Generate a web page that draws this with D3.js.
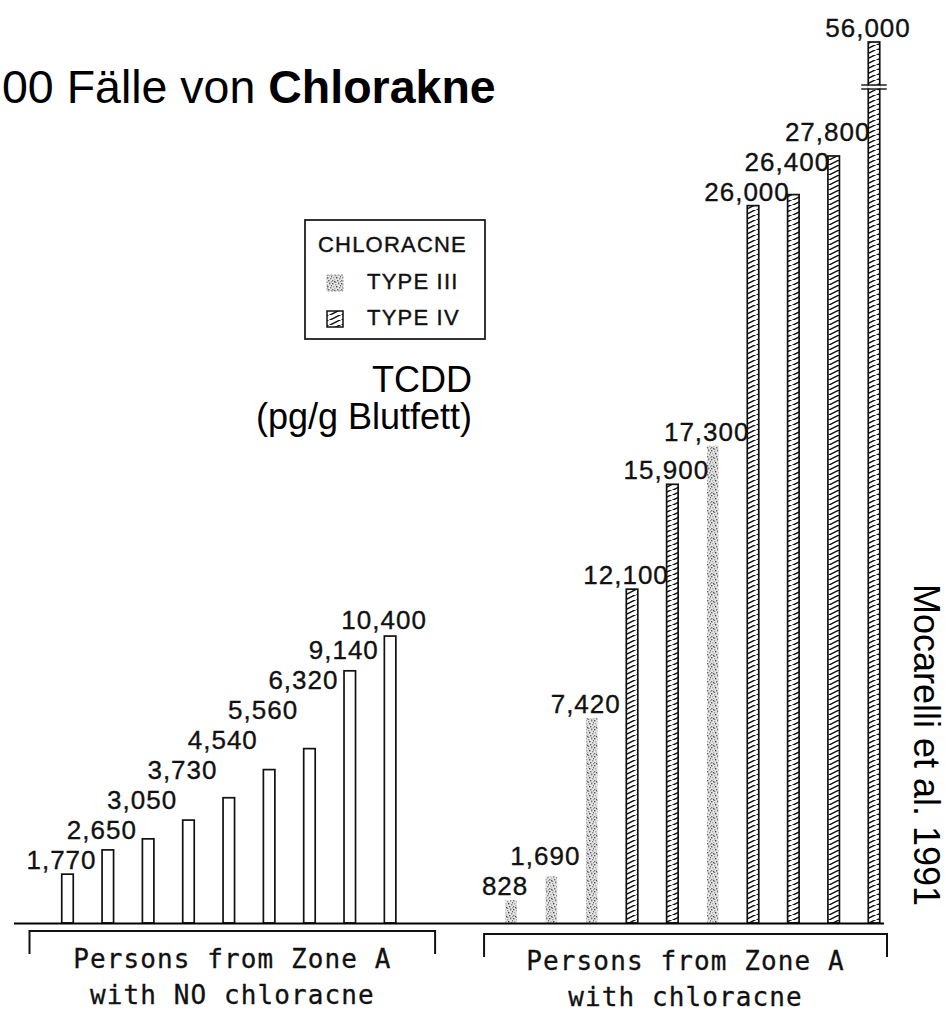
<!DOCTYPE html>
<html><head><meta charset="utf-8">
<script src="https://cdn.jsdelivr.net/npm/d3@7"></script>
<style>body{margin:0;background:#fff;overflow:hidden} svg{display:block}</style>
</head><body>
<svg id="chart" width="949" height="1013"></svg>
<script>
// ---------------- data ----------------
const noAcneValues = [1770, 2650, 3050, 3730, 4540, 5560, 6320, 9140, 10400];
const acneValues   = [828, 1690, 7420, 12100, 15900, 17300, 26000, 26400, 27800, 56000];
const acneTypes    = ["III", "III", "III", "IV", "IV", "III", "IV", "IV", "IV", "IV"];
const groupLabels  = [["Persons from Zone A", "with NO chloracne"], ["Persons from Zone A", "with chloracne"]];
const legendTitle  = "CHLORACNE";
const legendTypes  = ["III", "IV"];
const legendLabels = ["TYPE III", "TYPE IV"];
const titleRegular = "00 Fälle von ";
const titleBold    = "Chlorakne";
const unitLines    = ["TCDD", "(pg/g Blutfett)"];
const sourceText   = "Mocarelli et al. 1991";
const breakValue   = 30300;   // axis break for the off-scale bar

// ---------------- layout ----------------
const svg = d3.select("#chart");
const gapSlots = 2;
const nSlots = noAcneValues.length + gapSlots + acneValues.length;
const x = d3.scalePoint().domain(d3.range(nSlots)).range([67.5, 874]);
const y = d3.scaleLinear().domain([0, breakValue, d3.max(acneValues)]).range([923, 87, 42]);
const barW = 11.5;

const bars = [
  ...noAcneValues.map((v, i) => ({group: 0, slot: i, value: v, type: "none"})),
  ...acneValues.map((v, i) => ({group: 1, slot: noAcneValues.length + gapSlots + i, value: v, type: acneTypes[i]}))
];

// ---------------- patterns ----------------
const defs = svg.append("defs");
const hatch = defs.append("pattern").attr("id", "hatch")
  .attr("patternUnits", "userSpaceOnUse").attr("width", 12).attr("height", 5);
hatch.append("rect").attr("width", 12).attr("height", 5).attr("fill", "#fff");
hatch.append("path").attr("d", "M-1,6 L13,-1").attr("stroke", "#111").attr("stroke-width", 1.5);

const stip = defs.append("pattern").attr("id", "stipple")
  .attr("patternUnits", "userSpaceOnUse").attr("width", 9).attr("height", 9);
stip.append("rect").attr("width", 9).attr("height", 9).attr("fill", "#e4e4e4");
const dots = [[0,0,"#555"],[3,1,"#999"],[6,0,"#777"],[1,3,"#aaa"],[4,3,"#444"],[7,4,"#888"],
              [0,6,"#777"],[2,5,"#bbb"],[5,6,"#666"],[8,7,"#999"],[3,8,"#888"],[6,8,"#aaa"],
              [8,2,"#666"],[2,7,"#555"]];
dots.forEach(d => stip.append("rect").attr("x", d[0]).attr("y", d[1])
  .attr("width", 1.4).attr("height", 1.4).attr("fill", d[2]));

// ---------------- title ----------------
const title = svg.append("text").attr("x", 2).attr("y", 103)
  .attr("text-anchor", "start").attr("font-family", "Liberation Sans, Arial, sans-serif")
  .attr("font-size", 46.5).attr("fill", "#000");
title.append("tspan").text(titleRegular);
title.append("tspan").attr("font-weight", "bold").text(titleBold);

// ---------------- bars ----------------
const gBars = svg.append("g");
gBars.selectAll("rect.bar").data(bars).join("rect")
  .attr("class", "bar")
  .attr("x", d => x(d.slot) - barW / 2)
  .attr("y", d => y(d.value))
  .attr("width", barW)
  .attr("height", d => y(0) - y(d.value))
  .attr("fill", d => d.type === "IV" ? "url(#hatch)" : d.type === "III" ? "url(#stipple)" : "#fff")
  .attr("stroke", d => d.type === "III" ? "none" : "#111")
  .attr("stroke-width", 1.7);

// axis break on the off-scale bar
const broken = bars.filter(d => d.value > breakValue);
broken.forEach(d => {
  const yb = y(breakValue);
  const cx = x(d.slot);
  gBars.append("rect").attr("x", cx - barW / 2 - 1).attr("y", yb - 1.5)
    .attr("width", barW + 2).attr("height", 3).attr("fill", "#fff");
  [yb - 2, yb + 2].forEach(v => gBars.append("line")
    .attr("x1", cx - barW / 2 - 7).attr("x2", cx + barW / 2 + 7)
    .attr("y1", v).attr("y2", v).attr("stroke", "#111").attr("stroke-width", 1.4));
});

// baseline
svg.append("line").attr("x1", 14).attr("x2", 884).attr("y1", y(0) + 0.5).attr("y2", y(0) + 0.5)
  .attr("stroke", "#000").attr("stroke-width", 2.2);

// ---------------- value labels ----------------
const fmt = d3.format(",");
[0, 1].forEach(g => {
  let prev = Infinity;
  bars.filter(d => d.group === g).forEach(d => {
    d.ly = Math.min(y(d.value) - 5, prev - 30);
    prev = d.ly;
  });
});
svg.append("g").selectAll("text").data(bars).join("text")
  .attr("x", d => x(d.slot) - 6)
  .attr("y", d => d.ly)
  .attr("text-anchor", "middle")
  .attr("font-family", "Liberation Sans, Arial, sans-serif")
  .attr("font-size", 26).attr("letter-spacing", 1)
  .attr("fill", "#111").attr("stroke", "#111").attr("stroke-width", 0.35)
  .text(d => fmt(d.value));

// ---------------- group brackets ----------------
const groups = [0, 1].map(g => {
  const s = bars.filter(d => d.group === g).map(d => x(d.slot));
  return g === 0
    ? {x0: d3.min(s) - 38, x1: d3.max(s) + 45, yb: 931, lines: groupLabels[0], ty: 968}
    : {x0: d3.min(s) - 27, x1: d3.max(s) + 13, yb: 934, lines: groupLabels[1], ty: 970};
});
const gGroups = svg.append("g");
groups.forEach(gr => {
  gGroups.append("path")
    .attr("d", `M${gr.x0},${gr.yb + 23}V${gr.yb}H${gr.x1}V${gr.yb + 23}`)
    .attr("fill", "none").attr("stroke", "#111").attr("stroke-width", 2);
  gr.lines.forEach((t, i) => gGroups.append("text")
    .attr("x", (gr.x0 + gr.x1) / 2).attr("y", gr.ty + i * 36)
    .attr("text-anchor", "middle")
    .attr("font-family", "DejaVu Sans Mono, monospace")
    .attr("font-size", 26).attr("letter-spacing", 1.1)
    .attr("fill", "#111").attr("stroke", "#111").attr("stroke-width", 0.3)
    .text(t));
});

// ---------------- legend ----------------
const leg = svg.append("g").attr("transform", "translate(305,220)");
leg.append("rect").attr("width", 180).attr("height", 119)
  .attr("fill", "#fff").attr("stroke", "#111").attr("stroke-width", 1.7);
leg.append("text").attr("x", 13).attr("y", 32)
  .attr("font-family", "Liberation Sans, Arial, sans-serif")
  .attr("font-size", 22).attr("letter-spacing", 1.2)
  .attr("fill", "#111").attr("stroke", "#111").attr("stroke-width", 0.4).text(legendTitle);
legendTypes.forEach((t, i) => {
  const ry = 55 + i * 36;
  leg.append("rect").attr("x", 22).attr("y", ry).attr("width", 16).attr("height", 16)
    .attr("fill", t === "IV" ? "url(#hatch)" : "url(#stipple)")
    .attr("stroke", t === "IV" ? "#111" : "#999").attr("stroke-width", t === "IV" ? 1.5 : 1)
    .attr("stroke-dasharray", t === "IV" ? null : "2,1.5");
  leg.append("text").attr("x", 62).attr("y", ry + 14)
    .attr("font-family", "Liberation Sans, Arial, sans-serif")
    .attr("font-size", 22).attr("letter-spacing", 1.2)
    .attr("fill", "#111").attr("stroke", "#111").attr("stroke-width", 0.4).text(legendLabels[i]);
});

// ---------------- unit text ----------------
unitLines.forEach((t, i) => svg.append("text")
  .attr("x", 472).attr("y", 392 + i * 37)
  .attr("text-anchor", "end")
  .attr("font-family", "Liberation Sans, Arial, sans-serif")
  .attr("font-size", 36).attr("fill", "#000").text(t));

// ---------------- source ----------------
svg.append("text")
  .attr("transform", "translate(914,745) rotate(90)")
  .attr("text-anchor", "middle")
  .attr("font-family", "Liberation Sans, Arial, sans-serif")
  .attr("font-size", 36).attr("fill", "#000").text(sourceText);
</script>
</body></html>
